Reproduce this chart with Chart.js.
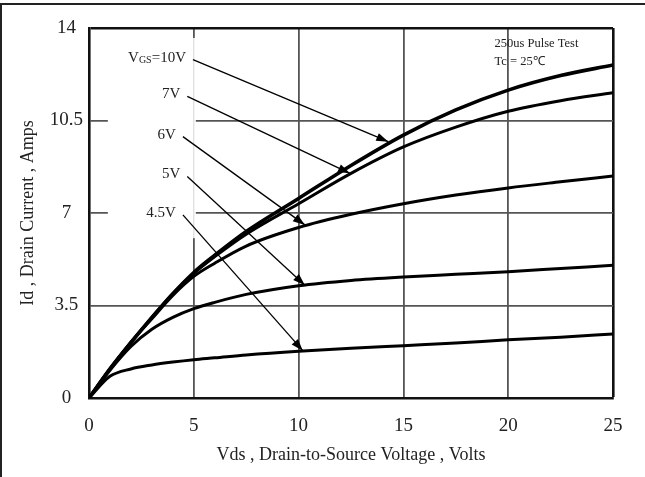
<!DOCTYPE html>
<html>
<head>
<meta charset="utf-8">
<script src="https://cdn.jsdelivr.net/npm/chart.js@4.4.0/dist/chart.umd.min.js"></script>
<style>
  html, body { margin: 0; padding: 0; background: #fff; }
  #wrap { position: relative; width: 645px; height: 477px; overflow: hidden; }
  #frame { position: absolute; left: 0; top: 3px; width: 700px; height: 500px; border-top: 2px solid #222; border-left: 2px solid #222; }
  canvas { position: absolute; left: 0; top: 0; }
</style>
</head>
<body>
<div id="wrap">
  <div id="frame"></div>
  <canvas id="myChart" width="645" height="477"></canvas>
</div>
<script>
// Vds (V) sample points and drain current (A) per gate voltage
const vds   = [0, 1, 2, 3, 4, 5, 6, 7.5, 10, 12.5, 15, 17.5, 20, 22.5, 25];
const id10V = [0, 1.1, 2.1, 3.05, 3.95, 4.75, 5.4, 6.3, 7.55, 8.8, 9.95, 10.9, 11.65, 12.2, 12.6];
const id7V  = [0, 1.1, 2.1, 3.05, 3.95, 4.72, 5.35, 6.2, 7.35, 8.5, 9.5, 10.25, 10.85, 11.25, 11.55];
const id6V  = [0, 1.1, 2.1, 3.0, 3.88, 4.6, 5.1, 5.75, 6.45, 6.95, 7.35, 7.68, 7.95, 8.18, 8.4];
const id5V  = [0, 1.05, 1.95, 2.6, 3.05, 3.38, 3.62, 3.92, 4.25, 4.45, 4.58, 4.68, 4.78, 4.9, 5.02];
const id45V = [0, 0.82, 1.1, 1.25, 1.36, 1.45, 1.52, 1.63, 1.77, 1.88, 1.98, 2.08, 2.2, 2.3, 2.42];

// callout arrows: label, start (Vds, Id) and tip (Vds, Id)
const arrowLabels = ['=10V', '7V', '6V', '5V', '4.5V'];
const arrowFromV  = [4.96, 4.69, 4.48, 4.69, 4.48];
const arrowFromI  = [12.8, 11.41, 9.89, 8.38, 6.93];
const arrowToV    = [14.28, 12.45, 10.3, 10.3, 10.2];
const arrowToI    = [9.7, 8.5, 6.55, 4.27, 1.79];

const xTicks = [0, 5, 10, 15, 20, 25];
const yTicks = [0, 3.5, 7, 10.5, 14];

const noteLines = ['250us Pulse Test', 'Tc = 25\u2103'];

const serif = '"Liberation Serif", "Times New Roman", serif';

function pts(ys) {
    return vds.map((v, i) => ({ x: v, y: ys[i] }));
}

function curve(ys, w) {
    return {
        data: pts(ys),
        borderColor: '#000',
        borderWidth: w,
        pointRadius: 0,
        cubicInterpolationMode: 'monotone',
        fill: false,
    };
}

const datasets = [
    curve(id10V, 3.6),
    curve(id7V, 3),
    curve(id6V, 3),
    curve(id5V, 3),
    curve(id45V, 3),
];

arrowLabels.forEach((lab, i) => {
    datasets.push({
        data: [{ x: arrowFromV[i], y: arrowFromI[i] }, { x: arrowToV[i], y: arrowToI[i] }],
        borderColor: '#000',
        borderWidth: 1.3,
        pointRadius: 0,
        tension: 0,
        isArrow: true,
        label: lab,
    });
});

const annotate = {
    id: 'annotate',
    beforeDatasetsDraw(chart) {
        const { ctx, chartArea, scales: { x, y } } = chart;
        // grid lines break around the callout labels
        const x0 = x.getPixelForValue(0.9);
        const x1 = x.getPixelForValue(5) + 2;
        const y0 = chartArea.top + 10;
        const y1 = y.getPixelForValue(6.05);
        ctx.save();
        ctx.fillStyle = '#fff';
        ctx.fillRect(x0, y0, x1 - x0, y1 - y0);
        ctx.strokeStyle = '#d6d6d6';
        ctx.lineWidth = 1;
        ctx.beginPath();
        ctx.moveTo(x.getPixelForValue(5), y0);
        ctx.lineTo(x.getPixelForValue(5), y1);
        ctx.stroke();
        ctx.restore();
    },
    afterDatasetsDraw(chart) {
        const { ctx, scales: { x, y } } = chart;
        ctx.save();
        ctx.fillStyle = '#000';
        chart.data.datasets.forEach((ds, i) => {
            if (!ds.isArrow) return;
            const meta = chart.getDatasetMeta(i);
            const p0 = meta.data[0], p1 = meta.data[1];
            const a = Math.atan2(p1.y - p0.y, p1.x - p0.x);
            const len = 12, half = 4.2;
            ctx.beginPath();
            ctx.moveTo(p1.x, p1.y);
            ctx.lineTo(p1.x - len * Math.cos(a) + half * Math.sin(a), p1.y - len * Math.sin(a) - half * Math.cos(a));
            ctx.lineTo(p1.x - len * Math.cos(a) - half * Math.sin(a), p1.y - len * Math.sin(a) + half * Math.cos(a));
            ctx.closePath();
            ctx.fill();

            // label to the left of the arrow start
            ctx.fillStyle = '#222';
            ctx.textBaseline = 'middle';
            ctx.textAlign = 'right';
            const lx = p0.x - 7, ly = p0.y - 2;
            ctx.font = '15px ' + serif;
            ctx.fillText(ds.label, lx, ly);
            if (ds.label === '=10V') {
                let w = ctx.measureText(ds.label).width;
                ctx.font = '10px ' + serif;
                const ws = ctx.measureText('GS').width;
                ctx.fillText('GS', lx - w, ly + 3);
                ctx.font = '15px ' + serif;
                ctx.fillText('V', lx - w - ws, ly);
            }
            ctx.fillStyle = '#000';
        });

        // test conditions, top right
        ctx.fillStyle = '#222';
        ctx.textAlign = 'left';
        ctx.textBaseline = 'middle';
        ctx.font = '12.5px ' + serif;
        ctx.fillText(noteLines[0], x.getPixelForValue(19.35), y.getPixelForValue(13.4));
        ctx.fillText(noteLines[1], x.getPixelForValue(19.35), y.getPixelForValue(12.72));
        ctx.restore();
    }
};

const edgeX = xTicks[xTicks.length - 1];
const edgeY = yTicks[yTicks.length - 1];

new Chart(document.getElementById('myChart'), {
    type: 'line',
    data: { datasets },
    options: {
        responsive: false,
        animation: false,
        devicePixelRatio: 1,
        layout: { padding: { left: 0, right: 32, top: 28, bottom: 0 } },
        plugins: { legend: { display: false }, tooltip: { enabled: false } },
        scales: {
            x: {
                type: 'linear',
                min: 0, max: 25,
                afterBuildTicks: s => { s.ticks = xTicks.map(v => ({ value: v })); },
                afterFit: s => { s.height = 79; },
                grid: {
                    drawTicks: false,
                    color: c => (c.tick && c.tick.value === edgeX) ? '#111' : '#555',
                    lineWidth: c => (c.tick && c.tick.value === edgeX) ? 2.6 : 1.8,
                },
                border: { color: '#111', width: 2.6 },
                ticks: { color: '#222', padding: 17, font: { family: serif, size: 19 } },
                title: {
                    display: true,
                    text: 'Vds , Drain-to-Source Voltage , Volts',
                    color: '#222',
                    font: { family: serif, size: 18 },
                    padding: { top: 0, bottom: 11 },
                },
            },
            y: {
                type: 'linear',
                min: 0, max: 14,
                afterBuildTicks: s => { s.ticks = yTicks.map(v => ({ value: v })); },
                afterFit: s => { s.width = 89; },
                grid: {
                    drawTicks: false,
                    color: c => (c.tick && c.tick.value === edgeY) ? '#111' : '#555',
                    lineWidth: c => (c.tick && c.tick.value === edgeY) ? 2.6 : 1.8,
                },
                border: { color: '#111', width: 2.6 },
                ticks: { color: '#222', padding: 6, crossAlign: 'center', font: { family: serif, size: 19 } },
                title: {
                    display: true,
                    text: 'Id , Drain Current , Amps',
                    color: '#222',
                    font: { family: serif, size: 18 },
                    padding: { top: 17, bottom: 0 },
                },
            },
        },
    },
    plugins: [annotate],
});
</script>
</body>
</html>
